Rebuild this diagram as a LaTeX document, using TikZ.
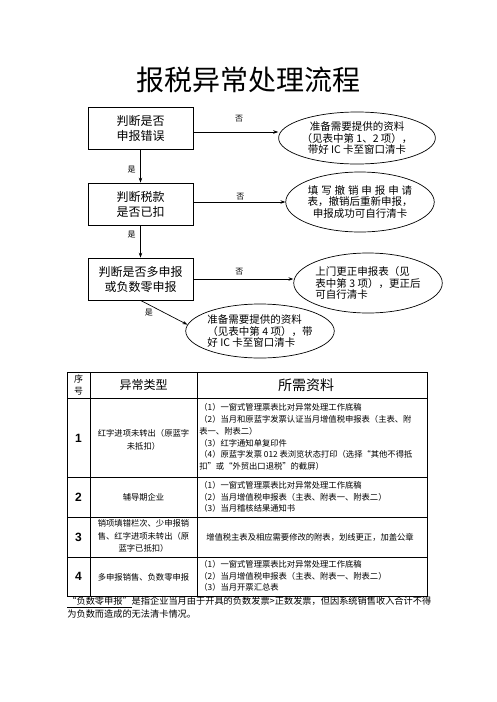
\documentclass[tikz,border=0pt]{standalone}
\usepackage{fontspec}
\setmainfont{Noto Sans CJK SC}
\newfontfamily\digitfont{Liberation Sans}
\usetikzlibrary{arrows.meta,shapes.geometric,positioning}

\begin{document}
\begin{tikzpicture}[-,>={Stealth[length=5pt,width=3.5pt]},x=1pt,y=-1pt,
  line width=0.7pt,
  check node/.style={rectangle,draw,minimum width=105pt,minimum height=42pt,
    align=center,font=\fontsize{12}{15}\selectfont},
  result node/.style={ellipse,draw,inner sep=0pt,font=\fontsize{10.5}{11.8}\selectfont},
  tag/.style={font=\fontsize{8}{9}\selectfont,inner sep=1pt},
  cell/.style={font=\fontsize{8.3}{12.5}\selectfont,align=center,inner sep=0pt},
  item/.style={font=\fontsize{8.3}{11.7}\selectfont,align=left,anchor=west,inner sep=0pt},
  num/.style={font=\digitfont\bfseries\fontsize{12}{12}\selectfont}]

  \useasboundingbox (0,0) rectangle (496,702);

  % title
  \node[font=\fontsize{28}{30}\selectfont] (title) at (248,80) {报税异常处理流程};

  % checks on the left
  \node[check node] (c1) at (140.5,128) {判断是否\\申报错误};
  \node[check node] (c2) at (140.5,204) {判断税款\\是否已扣};
  \node[check node] (c3) at (140.5,279) {判断是否多申报\\或负数零申报};

  % results
  \node[result node,minimum width=150pt,minimum height=52pt,align=center] (r1) at (357,138)
    {准备需要提供的资料\\（见表中第 1、2 项），\\带好 IC 卡至窗口清卡};
  \node[result node,minimum width=146pt,minimum height=60pt,align=center] (r2) at (360,202)
    {填\hspace{2.9pt}写\hspace{2.9pt}撤\hspace{2.9pt}销\hspace{2.9pt}申\hspace{2.9pt}报\hspace{2.9pt}申\hspace{2.9pt}请\\表，撤销后重新申报，\\申报成功可自行清卡};
  \node[result node,minimum width=142pt,minimum height=60pt,align=left] (r3) at (368,283)
    {上门更正申报表（见\\表中第 3 项），更正后\\可自行清卡};
  \node[result node,minimum width=146pt,minimum height=54pt,align=left] (r4) at (260,331)
    {准备需要提供的资料\\（见表中第 4 项），带\\好 IC 卡至窗口清卡};

  \coordinate (a1) at ([yshift=-4pt]c1.east);

  \path[->]
    (a1) edge node[tag,pos=0.54,above=9pt] {否} (a1 -| r1.west)
    (c2.east |- r2.west) edge node[tag,pos=0.51,above=1pt] {否} (r2.west)
    (c3.east) edge node[tag,pos=0.46,above=3pt] {否} (c3.east -| r3.west)

    (c1) edge node[tag,pos=0.62,left=3.5pt] {是} (c2)
    (c2) edge node[tag,pos=0.3,left=3.5pt] {是} (c3)
    (c3.south) edge node[tag,pos=0.18,below=3pt] {是} (r4.175);

  % table
  \draw[line width=0.6pt] (67,372) rectangle (427,596);
  \foreach \y in {398,477,517,557}
    \draw[line width=0.6pt] (67,\y) -- (427,\y);
  \foreach \x in {90,197}
    \draw[line width=0.6pt] (\x,372) -- (\x,596);

  \node[cell,font=\fontsize{9}{12}\selectfont] (h0) at (78.5,385) {序\\号};
  \node[font=\fontsize{12}{12}\selectfont] (h1) at (143.5,385) {异常类型};
  \node[font=\fontsize{14}{14}\selectfont] (h2) at (306,385) {所需资料};

  \node[num] (n1) at (78.5,438) {1};
  \node[num] (n2) at (78.5,497) {2};
  \node[num] (n3) at (78.5,537) {3};
  \node[num] (n4) at (78.5,576) {4};

  \node[cell] (t1) at (143.5,440) {红字进项未转出（原蓝字\\未抵扣）};
  \node[cell] (t2) at (143.5,497) {辅导期企业};
  \node[cell] (t3) at (143.5,536) {销项填错栏次、少申报销\\售、红字进项未转出（原\\蓝字已抵扣）};
  \node[cell] (t4) at (143.5,577) {多申报销售、负数零申报};

  \node[item] (d1) at (199,437) {（1）一窗式管理票表比对异常处理工作底稿\\
    （2）当月和原蓝字发票认证当月增值税申报表（主表、附\\
    表一、附表二）\\
    （3）红字通知单复印件\\
    （4）原蓝字发票 012 表浏览状态打印（选择“其他不得抵\\
    扣”或“外贸出口退税”的截屏）};
  \node[item] (d2) at (199,497) {（1）一窗式管理票表比对异常处理工作底稿\\
    （2）当月增值税申报表（主表、附表一、附表二）\\
    （3）当月稽核结果通知书};
  \node[cell] (d3) at (310,537) {增值税主表及相应需要修改的附表，划线更正，加盖公章};
  \node[item] (d4) at (199,576) {（1）一窗式管理票表比对异常处理工作底稿\\
    （2）当月增值税申报表（主表、附表一、附表二）\\
    （3）当月开票汇总表};

  % note under the table
  \node[font=\fontsize{9.2}{13}\selectfont,align=left,anchor=west,inner sep=0pt] (note) at (67,607.5)
    {\underline{“负数零申报”}是指企业当月由于开具的负数发票>正数发票，但因系统销售收入合计不得\\
    为负数而造成的无法清卡情况。};

\end{tikzpicture}
\end{document}
